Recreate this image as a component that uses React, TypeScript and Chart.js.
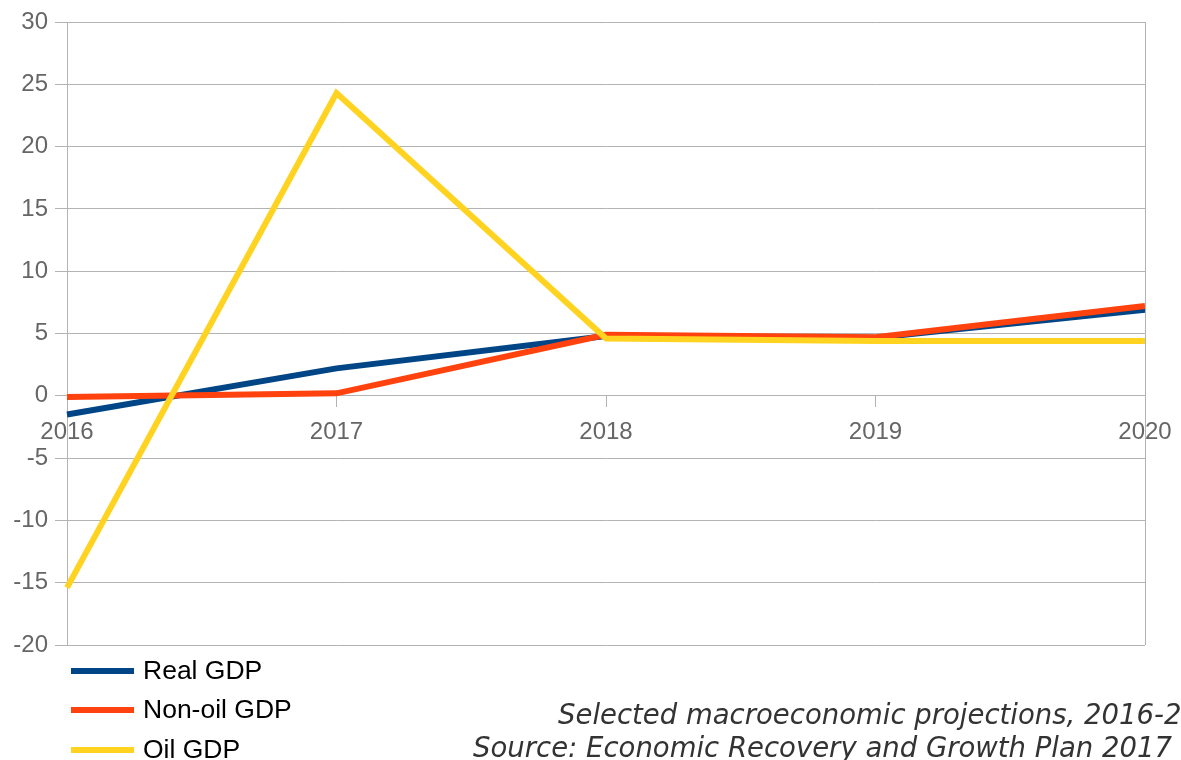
import React, { useEffect, useRef } from "react";
import { Chart, registerables } from "chart.js";

Chart.register(...registerables);

const years = ["2016", "2017", "2018", "2019", "2020"];
const seriesNames = ["Real GDP", "Non-oil GDP", "Oil GDP"];
const seriesColors = ["#004586", "#ff420e", "#ffd320"];
const realGdp = [-1.5, 2.2, 4.8, 4.65, 6.9];
const nonOilGdp = [-0.1, 0.2, 4.9, 4.7, 7.2];
const oilGdp = [-15.4, 24.3, 4.6, 4.4, 4.4];
const yTicks = [-20, -15, -10, -5, 0, 5, 10, 15, 20, 25, 30];
const captionLines = [
  "Selected macroeconomic projections, 2016-2020",
  "Source: Economic Recovery and Growth Plan 2017",
];

const GRID = "#b3b3b3";
const TICK_COLOR = "#666666";
const FONT = "'Liberation Sans', Arial, sans-serif";

const rightBorder = {
  id: "rightBorder",
  afterDatasetsDraw(chart: any) {
    const { ctx, chartArea } = chart;
    ctx.save();
    ctx.strokeStyle = GRID;
    ctx.lineWidth = 1;
    ctx.beginPath();
    ctx.moveTo(Math.round(chartArea.right) + 0.5, chartArea.top);
    ctx.lineTo(Math.round(chartArea.right) + 0.5, chartArea.bottom);
    ctx.stroke();
    ctx.restore();
  },
};

export default function App() {
  const ref = useRef<HTMLCanvasElement | null>(null);

  useEffect(() => {
    if (!ref.current) return;
    const allSeries = [realGdp, nonOilGdp, oilGdp];
    const chart = new Chart(ref.current, {
      type: "line",
      data: {
        labels: years,
        datasets: allSeries.map((d, i) => ({
          label: seriesNames[i],
          data: d,
          borderColor: seriesColors[i],
          backgroundColor: seriesColors[i],
          borderWidth: 6,
          pointRadius: 0,
          tension: 0,
          fill: false,
          order: 3 - i,
        })),
      },
      options: {
        animation: false,
        responsive: false,
        maintainAspectRatio: false,
        layout: { padding: { left: 0, top: 22, right: 36, bottom: 115 } },
        plugins: {
          legend: { display: false },
          tooltip: { enabled: false },
        },
        scales: {
          x: {
            type: "category",
            position: { y: 0 } as any,
            offset: false,
            afterFit: (scale: any) => {
              scale.paddingLeft = 0;
              scale.paddingRight = 0;
            },
            grid: {
              drawOnChartArea: false,
              drawTicks: true,
              tickLength: 11,
              color: GRID,
            },
            border: { display: true, color: GRID },
            ticks: {
              color: TICK_COLOR,
              font: { family: FONT, size: 24 },
              padding: 11,
              maxRotation: 0,
              autoSkip: false,
            },
          },
          y: {
            min: yTicks[0],
            max: yTicks[yTicks.length - 1],
            afterBuildTicks: (scale: any) => {
              scale.ticks = yTicks.map((v) => ({ value: v }));
            },
            afterFit: (scale: any) => {
              scale.width = 67;
            },
            grid: {
              color: GRID,
              tickLength: 12,
              drawTicks: true,
            },
            border: { display: true, color: GRID },
            ticks: {
              color: TICK_COLOR,
              font: { family: FONT, size: 24 },
              padding: 7,
            },
          },
        },
      },
      plugins: [rightBorder],
    });
    return () => chart.destroy();
  }, []);

  const legendCenters = [670.5, 710, 749.5];

  return (
    <div
      style={{
        position: "fixed",
        left: 0,
        top: 0,
        width: 1181,
        height: 760,
        overflow: "hidden",
        background: "#fff",
      }}
    >
      <canvas ref={ref} width={1181} height={760} style={{ display: "block" }} />
      {seriesNames.map((name, i) => (
        <div
          key={name}
          style={{
            position: "absolute",
            left: 71,
            top: legendCenters[i] - 3,
            height: 6,
            width: 63,
            background: seriesColors[i],
          }}
        />
      ))}
      {seriesNames.map((name, i) => (
        <div
          key={name + "-t"}
          style={{
            position: "absolute",
            left: 143,
            top: legendCenters[i] - 17,
            height: 32,
            lineHeight: "32px",
            fontFamily: FONT,
            fontSize: 26.5,
            color: "#000",
            whiteSpace: "nowrap",
          }}
        >
          {name}
        </div>
      ))}
      {captionLines.map((line, i) => (
        <div
          key={i}
          style={{
            position: "absolute",
            left: i === 0 ? 558 : 473,
            top: i === 0 ? 697.5 : 730.5,
            fontFamily: "'DejaVu Sans', sans-serif",
            fontStyle: "italic",
            fontSize: 27.5,
            lineHeight: "32px",
            color: "#333",
            whiteSpace: "nowrap",
          }}
        >
          {line}
        </div>
      ))}
    </div>
  );
}
